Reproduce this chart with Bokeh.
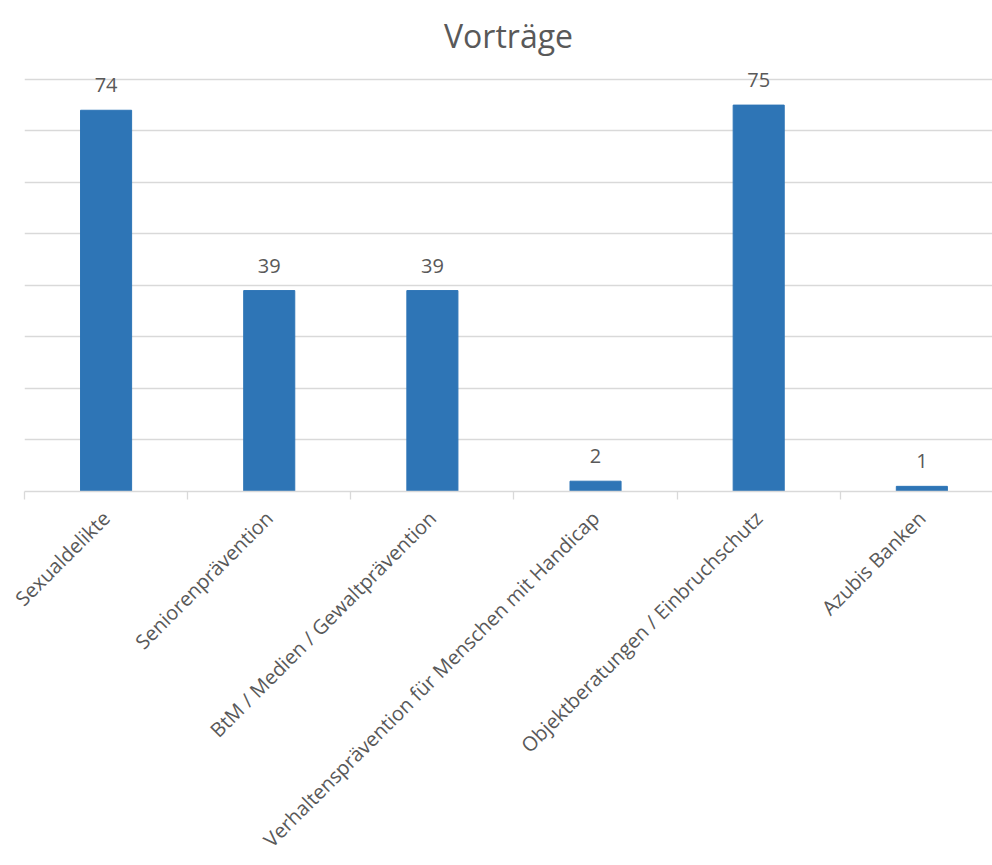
import math
from bokeh.plotting import figure
from bokeh.models import ColumnDataSource, FixedTicker, Range1d, Title
from bokeh.core.properties import value
from bokeh.embed import file_html
from bokeh.resources import INLINE

# Anzahl der Vorträge je Themenbereich
categories = [
    "Sexualdelikte",
    "Seniorenprävention",
    "BtM / Medien / Gewaltprävention",
    "Verhaltensprävention für Menschen mit Handicap",
    "Objektberatungen / Einbruchschutz",
    "Azubis Banken",
]
counts = [74, 39, 39, 2, 75, 1]
grid_ticks = [0, 10, 20, 30, 40, 50, 60, 70, 80]

FONT = "Open Sans"
TEXT_COLOR = "#595959"
GRID_COLOR = "#D9D9D9"
BAR_COLOR = "#2E75B6"

positions = list(range(len(categories)))
source = ColumnDataSource(dict(
    x=positions,
    top=counts,
    label=[str(c) for c in counts],
))

p = figure(
    width=992, height=865,
    x_range=Range1d(-0.5, 5.433),
    y_range=Range1d(0, 82.3),
    output_backend="svg",
    toolbar_location=None,
    min_border_left=24, min_border_right=0,
    min_border_top=57, min_border_bottom=373,
)
p.outline_line_color = None
p.background_fill_color = "white"
p.border_fill_color = "white"

p.title = Title(text="Vorträge", align="center",
                text_font=FONT, text_font_size="32px",
                text_color=TEXT_COLOR, text_font_style="normal",
                standoff=22)

p.vbar(x="x", top="top", width=0.313, source=source,
       fill_color=BAR_COLOR, line_color=BAR_COLOR)

p.text(x="x", y="top", text="label", source=source,
       text_align="center", text_baseline="bottom", y_offset=-18,
       text_font=value(FONT), text_font_size="20px", text_color=TEXT_COLOR)

# y axis: only the horizontal grid lines are shown
p.yaxis.visible = False
p.yaxis.ticker = FixedTicker(ticks=grid_ticks)
p.ygrid.ticker = FixedTicker(ticks=grid_ticks)
p.ygrid.grid_line_color = GRID_COLOR
p.ygrid.grid_line_width = 1.3
p.xgrid.visible = False

# x axis: labels at bar centres, tick marks on category boundaries
xa = p.xaxis[0]
xa.ticker = FixedTicker(ticks=positions,
                        minor_ticks=[i - 0.5 for i in range(len(categories) + 1)])
xa.major_label_overrides = {i: c for i, c in enumerate(categories)}
xa.major_label_orientation = math.pi / 4
xa.major_label_text_font = FONT
xa.major_label_text_font_size = "20px"
xa.major_label_text_color = TEXT_COLOR
xa.major_label_standoff = 15
xa.major_tick_line_color = None
xa.major_tick_out = 0
xa.minor_tick_line_color = GRID_COLOR
xa.minor_tick_line_width = 1.3
xa.minor_tick_in = 0
xa.minor_tick_out = 8
xa.axis_line_color = GRID_COLOR
xa.axis_line_width = 1.3

open("out.html", "w").write(file_html(p, INLINE))
